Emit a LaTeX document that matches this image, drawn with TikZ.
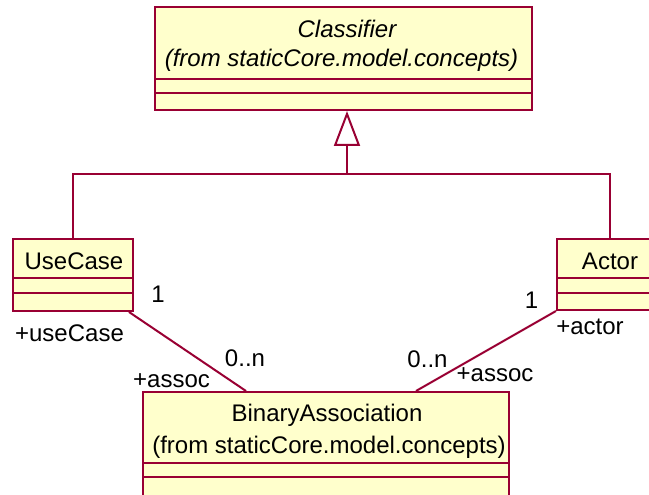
\documentclass[tikz,border=0pt]{standalone}
\usepackage{fontspec}
\setmainfont{Liberation Sans}
\usetikzlibrary{arrows.meta}
\definecolor{umlfill}{RGB}{255,255,204}
\definecolor{umlline}{RGB}{153,0,51}
\begin{document}
\begin{tikzpicture}[x=1pt,y=-1pt,
  classbox/.style={draw=umlline, fill=umlfill, line width=2pt, rectangle, inner sep=0pt},
  link/.style={draw=umlline, line width=2pt},
  txt/.style={anchor=base, inner sep=0pt, font=\fontsize{24}{28}\selectfont},
  itxt/.style={txt, font=\fontsize{24}{28}\selectfont\itshape}]
\useasboundingbox (0,0) rectangle (649,495);
\clip (0,0) rectangle (649,495);

% class boxes
\node[classbox, minimum width=377pt, minimum height=103pt] (classifier) at (343.5,58.5) {};
\node[classbox, minimum width=120pt, minimum height=72pt] (usecase) at (73,275) {};
\node[classbox, minimum width=106pt, minimum height=71pt] (actor) at (610,274.5) {};
\node[classbox, minimum width=366pt, minimum height=124pt] (binassoc) at (326,454) {};

% compartment separators
\draw[link] (155,79) -- (532,79);
\draw[link] (155,93) -- (532,93);
\draw[link] (13,278) -- (133,278);
\draw[link] (13,293) -- (133,293);
\draw[link] (557,278) -- (663,278);
\draw[link] (557,293) -- (663,293);
\draw[link] (143,463) -- (509,463);
\draw[link] (143,477) -- (509,477);

% class names
\node[itxt] (clsname) at (347,38) {Classifier};
\node[itxt] (clspkg) at (341.5,67) {(from staticCore.model.concepts)};
\node[txt] (ucname) at (74,269) {UseCase};
\node[txt] (actname) at (610,269) {Actor};
\node[txt] (baname) at (327,421.7) {BinaryAssociation};
\node[txt] (bapkg) at (329,453) {(from staticCore.model.concepts)};

% generalization
\coordinate (joint) at (347,174.5);
\draw[link] (usecase.north) |- (joint) -| (actor.north);
\draw[link, -{Triangle[open, fill=white, length=35pt, width=26pt, line width=2pt]}]
  (joint) -- (joint |- classifier.south);

% associations
\draw[link] ([xshift=-5pt]usecase.south east) -- ([xshift=104pt]binassoc.north west);
\draw[link] (actor.south west) -- ([xshift=274pt]binassoc.north west);

% association end labels
\node[txt] (ucmult) at (158,302.7) {1};
\node[txt] (ucrole) at (69.5,341.7) {+useCase};
\node[txt] (lmult) at (245,366.7) {0..n};
\node[txt] (lrole) at (171.5,387.7) {+assoc};
\node[txt] (rmult) at (427.5,367) {0..n};
\node[txt] (rrole) at (495,381.7) {+assoc};
\node[txt] (actmult) at (531.5,308) {1};
\node[txt] (actrole) at (590,334) {+actor};
\end{tikzpicture}
\end{document}
